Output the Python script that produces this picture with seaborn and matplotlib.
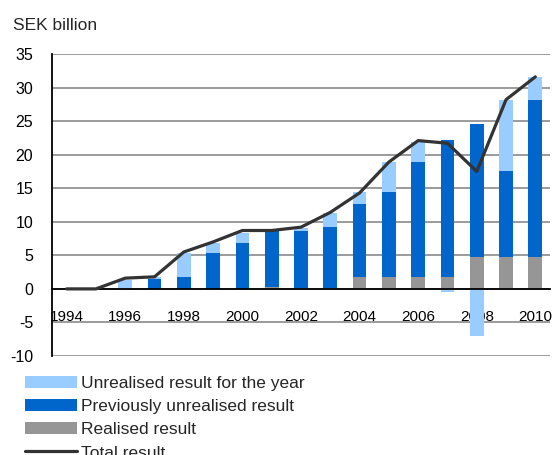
import numpy as np
import matplotlib
matplotlib.use("Agg")
import matplotlib.pyplot as plt
import seaborn as sns
from matplotlib.patches import Patch
from matplotlib.lines import Line2D

# Annual figures, SEK billion
years = [str(y) for y in range(1994, 2011)]
realised = [0, 0, 0, 0, 0, 0, 0, 0.25, 0.2, 0.2, 1.75, 1.75, 1.75, 1.75, 4.8, 4.8, 4.8]
previously_unrealised = [0, 0, 0, 1.5, 1.8, 5.4, 6.85, 8.45, 8.4, 9.0, 10.85, 12.65, 17.15, 20.45, 19.8, 12.7, 23.3]
unrealised_year = [0, 0, 1.3, 0.3, 3.6, 1.5, 1.5, 0, 0.5, 2.1, 1.8, 4.5, 3.0, -0.4, -7.0, 10.7, 3.5]
total_result = [0, 0, 1.6, 1.8, 5.5, 7.0, 8.7, 8.7, 9.2, 11.4, 14.3, 18.9, 22.1, 21.7, 17.5, 28.2, 31.6]
tick_years = years[::2]

LIGHT = "#99CCFF"
DARK = "#0066CC"
GREY = "#969696"
LINE = "#333333"

sns.set_theme(style="white")
plt.rcParams["font.family"] = ["Liberation Sans", "DejaVu Sans"]

fig = plt.figure(figsize=(5.53, 4.55), dpi=100)
ax = fig.add_axes([52 / 553, 1 - 356 / 455, (550 - 52) / 553, (356 - 54) / 455])

r = np.array(realised, dtype=float)
p = np.array(previously_unrealised, dtype=float)
u = np.array(unrealised_year, dtype=float)
u_bottom = np.where(u >= 0, r + p, 0.0)

bar_kw = dict(width=0.47, saturation=1, errorbar=None, linewidth=0, ax=ax, zorder=2)
sns.barplot(x=years, y=r, color=GREY, bottom=np.zeros_like(r), **bar_kw)
sns.barplot(x=years, y=p, color=DARK, bottom=r, **bar_kw)
sns.barplot(x=years, y=u, color=LIGHT, bottom=u_bottom, **bar_kw)

sns.lineplot(x=np.arange(len(years)), y=total_result, color=LINE, linewidth=2.3,
             ax=ax, zorder=4)

ax.set_xlim(-0.5, len(years) - 0.5)
ax.set_ylim(-10, 35)
ax.set_yticks(np.arange(-10, 36, 5))
ax.set_yticklabels([str(v) for v in range(-10, 36, 5)], fontsize=11.5)
ax.set_xticks(np.arange(0, len(years), 2))
ax.set_xticklabels(tick_years, fontsize=11.5)
ax.set_xticks(np.arange(-0.5, len(years), 1), minor=True)
ax.set_xlabel("")
ax.set_ylabel("")

ax.tick_params(axis="x", which="major", length=0, pad=15.5, colors="black")
ax.tick_params(axis="x", which="minor", length=6, width=1.2, color="black", direction="out")
ax.tick_params(axis="y", length=0, pad=13.5, colors="black")

ax.yaxis.grid(True, color="#8a8a8a", linewidth=1.2)
ax.xaxis.grid(False)
ax.set_axisbelow(True)

for side in ("top", "right"):
    ax.spines[side].set_visible(False)
ax.spines["bottom"].set_position(("data", 0))
ax.spines["bottom"].set_color("black")
ax.spines["bottom"].set_linewidth(1.3)
ax.spines["bottom"].set_zorder(3)
ax.spines["left"].set_color("black")
ax.spines["left"].set_linewidth(1.3)

fig.text(13 / 553, 1 - 25 / 455, "SEK billion", fontsize=12.5, ha="left", va="center")

handles = [
    Patch(facecolor=LIGHT, edgecolor="none"),
    Patch(facecolor=DARK, edgecolor="none"),
    Patch(facecolor=GREY, edgecolor="none"),
    Line2D([], [], color=LINE, linewidth=2.3),
]
labels = ["Unrealised result for the year", "Previously unrealised result",
          "Realised result", "Total result"]
fig.legend(handles, labels, loc="upper left", bbox_to_anchor=(25 / 553, 1 - 376 / 455),
           frameon=False, fontsize=12.5, borderpad=0, borderaxespad=0,
           handlelength=3.0, handleheight=0.7, handletextpad=0.2, labelspacing=0.46)

fig.savefig("out.png", dpi=100)
